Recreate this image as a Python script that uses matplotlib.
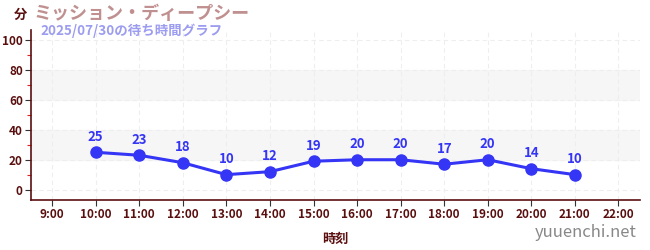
import matplotlib.pyplot as plt
from matplotlib.ticker import MultipleLocator

plt.rcParams['font.family'] = ['Noto Sans CJK JP', 'DejaVu Sans']

hours = [10, 11, 12, 13, 14, 15, 16, 17, 18, 19, 20, 21]
waits = [25, 23, 18, 10, 12, 19, 20, 20, 17, 20, 14, 10]
tick_hours = list(range(9, 23))
tick_labels = [f"{h}:00" for h in tick_hours]

title = "ミッション・ディープシー"
subtitle = "2025/07/30の待ち時間グラフ"

dark = "#5a0f0f"
blue = "#3535f5"

fig = plt.figure(figsize=(6.5, 2.5), dpi=100)
ax = fig.add_axes([0.048, 0.2, 0.937, 0.68])

ax.set_xlim(8.52, 22.5)
ax.set_ylim(-7, 107)

# shaded bands
for lo, hi in [(20, 40), (60, 80)]:
    ax.axhspan(lo, hi, color="#f6f6f6", zorder=0)

ax.set_xticks(tick_hours)
ax.set_xticklabels(tick_labels)
ax.set_yticks(range(0, 101, 20))
ax.yaxis.set_minor_locator(MultipleLocator(10))
ax.grid(True, which="major", color="#eeeeee", linestyle=(0, (4, 3)), linewidth=0.8)

for s in ["top", "right"]:
    ax.spines[s].set_visible(False)
for s in ["left", "bottom"]:
    ax.spines[s].set_color(dark)
    ax.spines[s].set_linewidth(1.2)

ax.tick_params(axis="both", which="major", length=4, width=0.8, color="#333333",
               labelcolor=dark, labelsize=8.5, pad=2)
ax.tick_params(axis="y", which="minor", length=3, width=0.8, color="#dd2222")
for lab in ax.get_xticklabels() + ax.get_yticklabels():
    lab.set_fontweight("bold")

ax.plot(hours, waits, color=blue, linewidth=2.2, marker="o", markersize=8, zorder=3)
for h, w in zip(hours, waits):
    ax.annotate(str(w), (h, w), xytext=(0, 6), textcoords="offset points",
                ha="center", va="bottom", color=blue, fontsize=9.5, fontweight="bold")

ax.set_xlabel("時刻", color=dark, fontsize=9.5, fontweight="bold", labelpad=8)

fig.text(0.022, 0.94, "分", color=dark, fontsize=9.5, fontweight="bold", va="center")
fig.text(0.052, 0.945, title, color="#c09090", fontsize=13, fontweight="bold", va="center")
fig.text(0.062, 0.875, subtitle, color="#9c9cf0", fontsize=9.7, fontweight="bold", va="center")
fig.text(0.98, 0.07, "yuuenchi.net", color="#888888", fontsize=12, ha="right", va="center")

fig.savefig("out.png", dpi=100)
